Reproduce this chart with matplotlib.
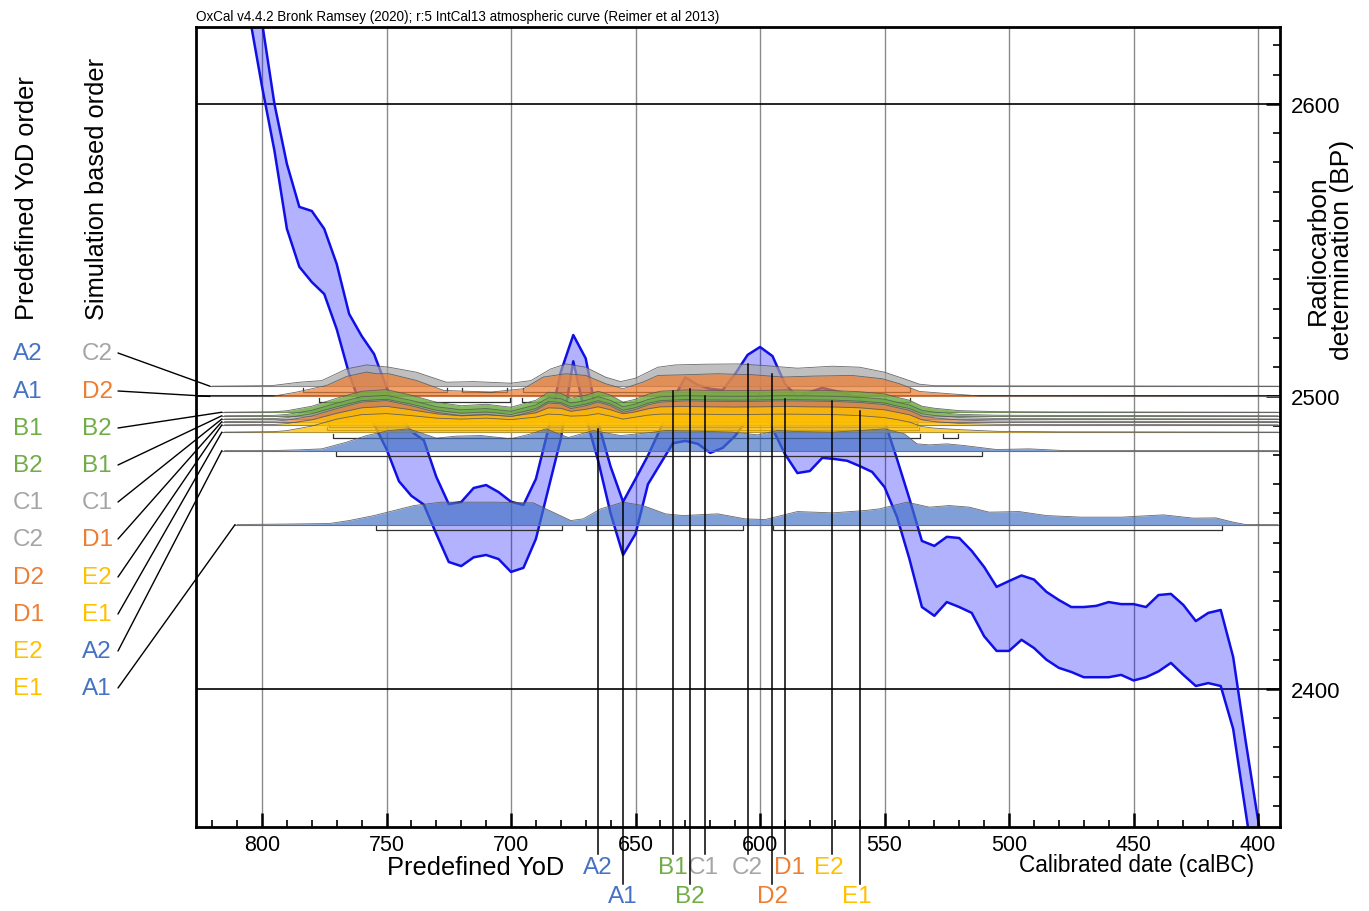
import numpy as np
import matplotlib
matplotlib.use('Agg')
import matplotlib.pyplot as plt
from matplotlib import transforms

plt.rcParams['font.family'] = ['Liberation Sans', 'DejaVu Sans']

W, H = 1369, 912

# ---------------- data ----------------
# IntCal13 calibration curve, 1-sigma band (calBC, BP)
cal_years = list(range(805, 390, -5))
cal_upper = [2655, 2628, 2600, 2579.5, 2564.8, 2563.4, 2557.3, 2545.3, 2528.2, 2520.7,
             2514.5, 2503.2, 2494, 2488, 2485, 2472.5, 2463.2, 2463.9, 2468.7, 2469.7,
             2467.3, 2464, 2462.9, 2471.8, 2488.9, 2508.4, 2521, 2513, 2491, 2476,
             2464, 2471.8, 2479.8, 2489, 2499, 2506.5, 2503.9, 2502.6, 2502.2, 2507.7,
             2514.2, 2516.9, 2513.8, 2504.3, 2499.8, 2501.5, 2502.9, 2501.9, 2500.9, 2499.1,
             2496.4, 2491.6, 2478.6, 2465, 2450.6, 2448.9, 2452, 2451.6, 2447.2, 2441.7,
             2434.9, 2436.9, 2438.8, 2437.4, 2433.2, 2430.4, 2428, 2428, 2428.4, 2429.7,
             2429, 2429, 2428, 2432.1, 2432.5, 2428.7, 2423.2, 2426, 2427, 2410.9,
             2382.2, 2355.2, 2328]
cal_lower = [2630, 2606, 2584, 2557.3, 2544.3, 2539.1, 2535, 2523, 2507.7, 2496,
             2490.5, 2482, 2471, 2466, 2463, 2453, 2443.4, 2442, 2445, 2445.8,
             2444.4, 2440, 2441.4, 2451.3, 2468.4, 2485.5, 2512, 2493, 2478, 2460,
             2445.8, 2453, 2470, 2477, 2484, 2484.8, 2483.8, 2480.7, 2482.4, 2486.5,
             2492.3, 2501, 2489, 2480.3, 2473.8, 2474.5, 2479, 2478.6, 2478, 2476.2,
             2474.2, 2469, 2458.8, 2444.4, 2428, 2425, 2429.7, 2428, 2426, 2418,
             2413, 2413, 2416.8, 2414, 2410, 2407.2, 2405.8, 2404, 2404, 2404,
             2404.8, 2402.9, 2404, 2406, 2408.9, 2404.8, 2401, 2402, 2401, 2386.3,
             2358, 2330, 2303]

# modelled distributions (relative probability)
C2_years = [820, 796, 785, 776, 766, 758, 749, 738, 726, 715, 700, 692, 684, 678, 670, 662, 656,
            650, 641, 634, 622, 609, 598, 585, 571, 560, 550, 542, 536, 530, 500, 450, 392]
C2_dens = [0, 0.6, 4, 5.6, 17.3, 21.3, 19, 14, 4, 4.6, 3, 5.6, 17.3, 22.3, 19, 9, 4.6,
           8, 19, 21.3, 22, 22.3, 20.6, 18, 20, 19, 14, 7.3, 2, 0.5, 0.3, 0.2, 0]

D2_years = [820, 796, 786, 774, 766, 758, 754, 749, 738, 727, 708, 695, 687, 678, 670, 662, 655,
            647, 641, 630, 617, 603, 591, 578, 563, 551, 544, 536, 524, 512, 392]
D2_dens = [0, 0, 4.4, 11, 20, 24.4, 22.7, 22.7, 16, 6, 4.4, 7.7, 19.4, 22.7, 21, 12.7, 7.7,
           14.4, 21, 21.7, 22.7, 21.7, 19.4, 20.4, 21, 17.7, 12.7, 5, 2.7, 0.5, 0]

mid_years = [815, 795, 790, 780, 770, 760, 750, 740, 730, 720, 710, 700, 690, 685, 680, 676, 670,
             665, 660, 655, 650, 645, 640, 630, 620, 610, 600, 590, 580, 570, 560, 550, 545,
             540, 535, 530, 520, 505, 480, 440, 392]
B2_dens = [0, 0.5, 1.5, 6, 14, 21, 22.6, 17, 10, 6.5, 8, 5, 12, 20, 19, 14, 17,
           21, 17, 10, 13, 18, 21, 22.3, 21.8, 21.6, 21.8, 22.3, 22, 21.6, 20.5, 18.3, 15,
           12, 6, 4, 1.6, 0.6, 0.3, 0.2, 0]
B1_dens = [0, 0.4, 1.3, 5.4, 12.6, 19, 20.3, 15.3, 9, 5.9, 7.2, 4.5, 10.8, 18, 17.1, 12.6, 15.3,
           19, 15.3, 9, 11.7, 16.2, 19, 20, 19.6, 19.4, 19.6, 20, 19.8, 19.4, 18.5, 16.5, 13.5,
           10.8, 5.4, 3.6, 1.4, 0.5, 0.3, 0.2, 0]
C1_dens = [0, 0.4, 1.3, 5.2, 12.2, 18.3, 19.7, 14.8, 8.7, 5.7, 7, 4.4, 10.4, 17.4, 16.5, 12.2, 14.8,
           18.3, 14.8, 8.7, 11.3, 15.7, 18.3, 19.4, 19, 18.8, 19, 19.4, 19.1, 18.8, 17.8, 15.9, 13,
           10.4, 5.2, 3.5, 1.4, 0.5, 0.3, 0.2, 0]
D1_dens = [0, 0.5, 1.4, 5.6, 13, 19.5, 21, 15.8, 9.3, 6, 7.4, 4.7, 11.2, 18.6, 17.7, 13, 15.8,
           19.5, 15.8, 9.3, 12.1, 16.7, 19.5, 20.7, 20.3, 20.1, 20.3, 20.7, 20.5, 20.1, 19.1, 17, 14,
           11.2, 5.6, 3.7, 1.5, 0.6, 0.3, 0.2, 0]
E2_dens = [0, 0.4, 1.2, 5, 11.5, 17, 18.5, 15, 11, 9, 10, 8.5, 12, 17, 16.5, 13.5, 15.5,
           18, 15, 11, 13, 16, 18, 18.3, 18, 17.8, 18, 18.3, 18, 17.8, 17, 15, 12.5,
           10, 5, 3.2, 1.3, 0.5, 0.2, 0.2, 0]
E1_dens = [0, 0.5, 1.5, 6, 13, 17.5, 18.5, 16.5, 14, 13, 14, 12.5, 15, 18, 17.5, 16, 16.5,
           18.5, 16, 13, 15, 17, 18, 18, 17.8, 17.5, 17.8, 18, 17.8, 17.5, 16.5, 14.5, 12.5,
           10, 5.5, 4, 2.5, 0.8, 0.3, 0.2, 0]

A2_years = [815, 796, 785, 776, 766, 758, 749, 741, 730, 722, 712, 700, 692, 686, 677, 667, 656,
            645, 638, 625, 611, 601, 593, 585, 571, 560, 550, 542, 537, 532, 525, 518, 505,
            492, 478, 392]
A2_dens = [0, 0, 0.7, 1.7, 8.4, 15, 20, 21.7, 12.4, 14.4, 15, 11.7, 16.7, 21.7, 13, 20, 15,
           17.7, 20, 19.4, 18.4, 15.7, 20, 19, 18.4, 20, 21.7, 16.7, 6.7, 5.7, 6.7, 5, 1,
           1.7, 0, 0]

A1_years = [810, 790, 773, 765, 755, 747, 739, 728, 707, 691, 686, 676, 671, 664, 655, 647,
            638, 631, 617, 606, 598, 585, 571, 558, 552, 541, 532, 524, 516, 508, 496, 485,
            471, 455, 438, 426, 417, 410, 405, 392]
A1_dens = [0, 0.5, 1, 4, 9, 14, 19, 22.4, 22.4, 21.7, 15.7, 4, 5.7, 15.7, 22.4, 19,
           10.7, 9, 10.7, 5.7, 5, 13, 11.7, 14, 15.7, 22.4, 17.4, 19, 17.4, 12.4, 13, 9,
           7.4, 7.4, 9.7, 6.4, 6.7, 2.4, 0, 0]

# 95.4% ranges (calBC)
C2_ranges = [(783.5, 725.7), (719.7, 701.6), (695.2, 539.8)]
D2_ranges = [(777.1, 700.4), (695.6, 539.8)]
B2_ranges = [(774, 536.5)]
B1_ranges = [(774, 536.5)]
C1_ranges = [(773.5, 537)]
D1_ranges = [(773, 537)]
E2_ranges = [(774, 536)]
E1_ranges = [(771.5, 535.7), (526.5, 520.5)]
A2_ranges = [(770.3, 510.8)]
A1_ranges = [(754.2, 679.5), (669.9, 606.8), (594.8, 414.6)]

# predefined years of death
yod_labels = ['A2', 'A1', 'B1', 'B2', 'C1', 'C2', 'D2', 'D1', 'E2', 'E1']
yod_years = [665, 655, 635, 628, 622, 605, 595, 590, 571, 560]
yod_bp = [2489, 2464, 2502, 2502.6, 2500, 2511, 2507.7, 2499, 2498.6, 2495]

pred_order = ['A2', 'A1', 'B1', 'B2', 'C1', 'C2', 'D2', 'D1', 'E2', 'E1']
sim_order = ['C2', 'D2', 'B2', 'B1', 'C1', 'D1', 'E2', 'E1', 'A2', 'A1']

# ---------------- styles / layout ----------------
group_color = {'A': '#4472c4', 'B': '#70ad47', 'C': '#a5a5a5', 'D': '#ed7d31', 'E': '#ffc000'}
group_alpha = {'A': 0.68, 'B': 0.85, 'C': 0.7, 'D': 0.72, 'E': 0.78}

dist = {
    'C2': (C2_years, C2_dens, C2_ranges), 'D2': (D2_years, D2_dens, D2_ranges),
    'B2': (mid_years, B2_dens, B2_ranges), 'B1': (mid_years, B1_dens, B1_ranges),
    'C1': (mid_years, C1_dens, C1_ranges), 'D1': (mid_years, D1_dens, D1_ranges),
    'E2': (mid_years, E2_dens, E2_ranges), 'E1': (mid_years, E1_dens, E1_ranges),
    'A2': (A2_years, A2_dens, A2_ranges), 'A1': (A1_years, A1_dens, A1_ranges),
}
# row baselines (BP) and start of baseline (calBC)
row_base = [2503.5, 2500.0, 2494.6, 2493.4, 2492.3, 2491.4, 2490.3, 2487.8, 2481.5, 2456.2]
row_start = [820.9, 820.9, 816.1, 816.1, 816.1, 816.1, 816.1, 816.1, 816.1, 810.8]
dens_scale = 1 / 2.925
label_rows_px = [354, 392, 429, 466, 503, 540, 578, 615, 652, 689]

XL, XR = 826.5, 391.2
YB, YT = 2352.8, 2626.3

fig = plt.figure(figsize=(W / 100, H / 100), dpi=100)
ax = fig.add_axes([196 / W, 1 - 828 / H, (1280 - 196) / W, (828 - 28) / H])
ax.set_xlim(XL, XR)
ax.set_ylim(YB, YT)

# grid
for gx in range(800, 399, -50):
    ax.axvline(gx, color='#8a8a8a', lw=1.0, zorder=0.5)
for gy in [2400, 2500, 2600]:
    ax.axhline(gy, color='black', lw=1.2, zorder=0.6)

# calibration curve
ax.fill_between(cal_years, cal_lower, cal_upper, color='#0000ff', alpha=0.3, lw=0, zorder=1)
ax.plot(cal_years, cal_upper, color='#1010e6', lw=1.8, zorder=1.2)
ax.plot(cal_years, cal_lower, color='#1010e6', lw=1.8, zorder=1.2)

# distributions (each lower row drawn over the rows above it)
for i, name in enumerate(sim_order):
    yrs, dens, rngs = dist[name]
    g = name[0]
    base = row_base[i]
    top = base + np.array(dens) * dens_scale
    z = 2 + i * 0.1
    ax.plot([row_start[i], XR], [base, base], color='#707070', lw=0.8, zorder=z - 0.01)
    yb = base - 1.9
    for a, b in rngs:
        ax.plot([a, a, b, b], [yb + 1.3, yb, yb, yb + 1.3], color='#303030', lw=0.9, zorder=z - 0.02)
    ax.fill_between(yrs, base, top, color=group_color[g], alpha=group_alpha[g], lw=0, zorder=z)
    ax.plot(yrs, top, color='#5a5a5a', lw=0.6, alpha=0.9, zorder=z + 0.01)

# axes styling
ax.set_xticks(list(range(800, 399, -50)))
ax.set_xticks(list(range(820, 390, -10)), minor=True)
ax.yaxis.tick_right()
ax.yaxis.set_label_position('right')
ax.set_yticks([2400, 2500, 2600])
ax.set_yticks(list(range(2360, 2630, 10)), minor=True)
ax.tick_params(axis='x', which='major', direction='in', length=10, width=1.8, labelsize=15.5, pad=5,
               top=False)
ax.tick_params(axis='x', which='minor', direction='in', length=5, width=1.2, top=False)
ax.tick_params(axis='y', which='major', direction='in', length=10, width=1.8, labelsize=16, pad=8,
               left=False, right=True)
ax.tick_params(axis='y', which='minor', direction='in', length=5, width=1.2, left=False, right=True)
for s in ax.spines.values():
    s.set_linewidth(2)
    s.set_zorder(10)

# YoD vertical lines + labels
inv = ax.transData.inverted()
def px_to_bp(py):
    return inv.transform((0, H - py))[1]
bl = transforms.blended_transform_factory(ax.transData, fig.transFigure)
label_dx = [0, 0, 0, 0, 0.8, 0, 0, -2, 1.4, 1]
for k, lab in enumerate(yod_labels):
    low = lab in ('A1', 'B2', 'D2', 'E1')
    end_px = 885 if low else 855
    txt_px = 897 if low else 868
    ax.plot([yod_years[k], yod_years[k]], [yod_bp[k], px_to_bp(end_px)], color='black', lw=1.1,
            zorder=6, clip_on=False)
    ax.text(yod_years[k] + label_dx[k], 1 - txt_px / H, lab, transform=bl, ha='center', va='center',
            fontsize=17.5, color=group_color[lab[0]])

# connectors from left labels to rows
for i, name in enumerate(sim_order):
    ax.annotate('', xy=(row_start[i], row_base[i]), xycoords='data',
                xytext=(118 / W, 1 - label_rows_px[i] / H), textcoords='figure fraction',
                arrowprops=dict(arrowstyle='-', lw=1.0, color='black', shrinkA=0, shrinkB=0),
                annotation_clip=False)

# left labels
for i in range(10):
    fy = 1 - label_rows_px[i] / H
    fig.text(28 / W, fy, pred_order[i], ha='center', va='center', fontsize=17.5,
             color=group_color[pred_order[i][0]])
    fig.text(97 / W, fy, sim_order[i], ha='center', va='center', fontsize=17.5,
             color=group_color[sim_order[i][0]])

fig.text(27 / W, 1 - 320 / H, 'Predefined YoD order', rotation=90, ha='center', va='bottom', fontsize=18.3)
fig.text(97 / W, 1 - 320 / H, 'Simulation based order', rotation=90, ha='center', va='bottom', fontsize=18.3)

fig.text(1330 / W, 1 - 250 / H, 'Radiocarbon\ndetermination (BP)', rotation=90, ha='center', va='center',
         fontsize=19, linespacing=1.0, multialignment='center')
fig.text(476 / W, 1 - 868 / H, 'Predefined YoD', ha='center', va='center', fontsize=18.3)
fig.text(1137 / W, 1 - 866 / H, 'Calibrated date (calBC)', ha='center', va='center', fontsize=16.3)
fig.text(196 / W, 1 - 17 / H,
         'OxCal v4.4.2 Bronk Ramsey (2020); r:5 IntCal13 atmospheric curve (Reimer et al 2013)',
         ha='left', va='center', fontsize=9.75)

fig.savefig('out.png', dpi=100)
